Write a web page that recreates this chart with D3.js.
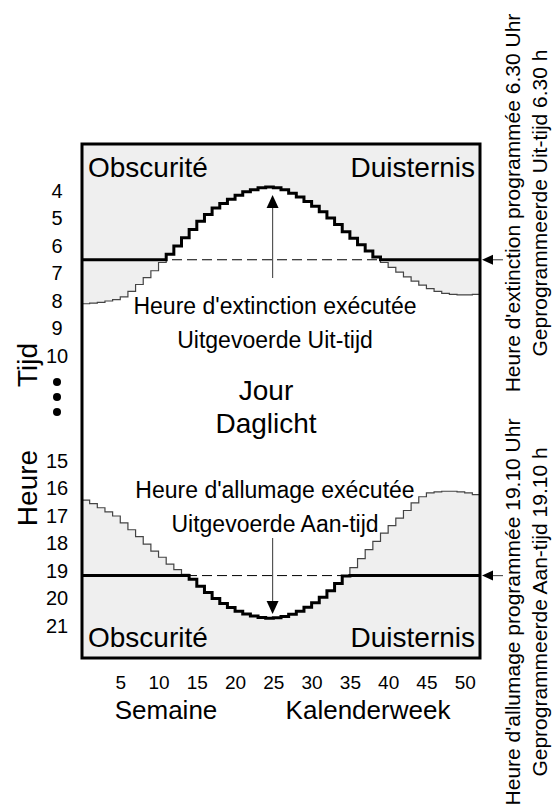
<!DOCTYPE html>
<html>
<head>
<meta charset="utf-8">
<script src="https://cdn.jsdelivr.net/npm/d3@7"></script>
<style>
  html, body { margin: 0; padding: 0; background: #fff; }
  svg text { font-family: "Liberation Sans", Arial, sans-serif; fill: #000; }
</style>
</head>
<body>
<svg id="chart" width="558" height="805"></svg>
<script>
// Sunrise (hour) per calendar week, weeks 1..52.
const sunrise = [
    8.10, 8.08, 8.05, 8.00, 7.95, 7.85, 7.65, 7.40, 7.15, 6.90,
    6.60, 6.30, 6.00, 5.70, 5.40, 5.10, 4.85, 4.62, 4.45, 4.30,
    4.15, 4.03, 3.95, 3.88, 3.85, 3.88, 3.95, 4.08, 4.22, 4.38,
    4.55, 4.75, 4.98, 5.22, 5.48, 5.72, 5.95, 6.18, 6.40, 6.60,
    6.78, 6.95, 7.12, 7.28, 7.42, 7.55, 7.65, 7.72, 7.76, 7.78,
    7.78, 7.76
];

// Sunset (hour) per calendar week, weeks 1..52.
const sunset = [
    16.42, 16.55, 16.70, 16.85, 17.00, 17.25, 17.50, 17.75, 18.02, 18.28,
    18.50, 18.75, 18.95, 19.12, 19.30, 19.55, 19.78, 20.00, 20.18, 20.33,
    20.46, 20.56, 20.64, 20.69, 20.72, 20.70, 20.65, 20.57, 20.46, 20.32,
    20.15, 19.95, 19.72, 19.45, 19.18, 18.88, 18.55, 18.22, 17.92, 17.62,
    17.35, 17.08, 16.80, 16.52, 16.30, 16.16, 16.12, 16.10, 16.10, 16.12,
    16.16, 16.22
];

const weekTicks = [5, 10, 15, 20, 25, 30, 35, 40, 45, 50];
const morningTicks = [4, 5, 6, 7, 8, 9, 10];
const eveningTicks = [15, 16, 17, 18, 19, 20, 21];

// Programmed switching times: off 6.30, on 19.10.
const offTime = 6.5;
const onTime = 19 + 10 / 60;

const svg = d3.select('#chart');

const frame = { left: 82, top: 144, right: 480, bottom: 658 };

const x = d3.scaleLinear().domain([0, sunrise.length]).range([frame.left, frame.right]);
const yTop = d3.scaleLinear().domain([4, 10]).range([191, 356]);
const yBot = d3.scaleLinear().domain([15, 21]).range([461, 626]);

// One point per week start, plus a closing point at the right edge, for step curves.
const steps = sunrise.map((rise, i) => ({ w: i, rise, set: sunset[i] }));
steps.push({ ...steps[steps.length - 1], w: sunrise.length });

// Night background, day area cut out of it.
svg.append('rect')
    .attr('x', frame.left).attr('y', frame.top)
    .attr('width', frame.right - frame.left).attr('height', frame.bottom - frame.top)
    .attr('fill', '#efefef');

const dayArea = d3.area().curve(d3.curveStepAfter)
    .x(d => x(d.w))
    .y0(d => yTop(d.rise))
    .y1(d => yBot(d.set));

svg.append('path').attr('d', dayArea(steps)).attr('fill', '#fff');

// Dashed programmed-time lines.
[yTop(offTime), yBot(onTime)].forEach(y => {
    svg.append('line')
        .attr('x1', frame.left).attr('x2', frame.right)
        .attr('y1', y).attr('y2', y)
        .attr('stroke', '#000').attr('stroke-width', 1)
        .attr('stroke-dasharray', '10,5');
});

// Thin sunrise / sunset curves.
const thinRise = d3.line().curve(d3.curveStepAfter).x(d => x(d.w)).y(d => yTop(d.rise));
const thinSet = d3.line().curve(d3.curveStepAfter).x(d => x(d.w)).y(d => yBot(d.set));

svg.append('path').attr('d', thinRise(steps)).attr('fill', 'none').attr('stroke', '#444').attr('stroke-width', 1.2);
svg.append('path').attr('d', thinSet(steps)).attr('fill', 'none').attr('stroke', '#444').attr('stroke-width', 1.2);

// Executed switching times (bold).
const boldOff = d3.line().curve(d3.curveStepAfter).x(d => x(d.w)).y(d => yTop(Math.min(d.rise, offTime)));
const boldOn = d3.line().curve(d3.curveStepAfter).x(d => x(d.w)).y(d => yBot(Math.max(d.set, onTime)));

svg.append('path').attr('d', boldOff(steps)).attr('fill', 'none').attr('stroke', '#000').attr('stroke-width', 3);
svg.append('path').attr('d', boldOn(steps)).attr('fill', 'none').attr('stroke', '#000').attr('stroke-width', 3);

// Vertical arrows pointing at the executed times.
const arrowX = x(24.9);

const vArrow = (from, tip, dir) => {
    svg.append('line')
        .attr('x1', arrowX).attr('x2', arrowX)
        .attr('y1', from).attr('y2', tip - dir * 10)
        .attr('stroke', '#555').attr('stroke-width', 1.2);
    svg.append('path')
        .attr('d', `M${arrowX},${tip}L${arrowX - 6},${tip - dir * 13}L${arrowX + 6},${tip - dir * 13}Z`)
        .attr('fill', '#000');
};

vArrow(278, 195, -1);
vArrow(538, 614, 1);

// Small arrows at the right edge for the programmed times.
[yTop(offTime), yBot(onTime)].forEach(y => {
    svg.append('line')
        .attr('x1', frame.right + 10).attr('x2', frame.right + 23)
        .attr('y1', y).attr('y2', y)
        .attr('stroke', '#555').attr('stroke-width', 1.2);
    svg.append('path')
        .attr('d', `M${frame.right + 2},${y}L${frame.right + 13},${y - 5}L${frame.right + 13},${y + 5}Z`)
        .attr('fill', '#000');
});

// Frame on top.
svg.append('rect')
    .attr('x', frame.left).attr('y', frame.top)
    .attr('width', frame.right - frame.left).attr('height', frame.bottom - frame.top)
    .attr('fill', 'none').attr('stroke', '#000').attr('stroke-width', 3);

// Region labels.
const label = (text, tx, ty, size, anchor = 'start') =>
    svg.append('text').attr('x', tx).attr('y', ty)
        .attr('font-size', size).attr('text-anchor', anchor).text(text);

label('Obscurité', 88, 177, 28);
label('Duisternis', 475, 177, 28, 'end');
label('Obscurité', 88, 647, 28);
label('Duisternis', 475, 647, 28, 'end');

label('Jour', 266, 400, 28, 'middle');
label('Daglicht', 266, 433, 28, 'middle');

label("Heure d'extinction exécutée", 275, 314, 23, 'middle');
label('Uitgevoerde Uit-tijd', 275, 348, 23, 'middle');
label("Heure d'allumage exécutée", 275, 498, 23, 'middle');
label('Uitgevoerde Aan-tijd', 275, 532, 23, 'middle');

// Axes.
const xAxis = svg.append('g')
    .attr('transform', `translate(0,${frame.bottom + 31})`)
    .call(d3.axisBottom(x).tickValues(weekTicks).tickFormat(d3.format('d')).tickSize(0).tickPadding(0));
xAxis.select('.domain').remove();
xAxis.selectAll('text').attr('font-size', 19).attr('dy', 0).attr('font-family', null);

const yAxisTop = svg.append('g')
    .attr('transform', 'translate(57,0)')
    .call(d3.axisLeft(yTop).tickValues(morningTicks).tickFormat(d3.format('d')).tickSize(0).tickPadding(0));
const yAxisBot = svg.append('g')
    .attr('transform', 'translate(57,0)')
    .call(d3.axisLeft(yBot).tickValues(eveningTicks).tickFormat(d3.format('d')).tickSize(0).tickPadding(0));

[yAxisTop, yAxisBot].forEach(g => {
    g.select('.domain').remove();
    g.selectAll('text').attr('font-size', 20).attr('text-anchor', 'middle').attr('x', 0).attr('font-family', null);
});

// Break dots between 10 and 15.
[382, 397, 412].forEach(cy => {
    svg.append('circle').attr('cx', 57).attr('cy', cy).attr('r', 4).attr('fill', '#000');
});

label('Semaine', 166, 719, 26, 'middle');
label('Kalenderweek', 368, 719, 26, 'middle');

// Rotated axis titles.
const rotated = (text, tx, ty, size) =>
    svg.append('text')
        .attr('transform', `translate(${tx},${ty}) rotate(-90)`)
        .attr('font-size', size).attr('text-anchor', 'middle').text(text);

rotated('Tijd', 37, 365, 28);
rotated('Heure', 37, 488, 28);

rotated("Heure d'extinction programmée 6.30 Uhr", 520, 203, 21);
rotated('Geprogrammeerde Uit-tijd 6.30 h', 547, 203, 21);
rotated("Heure d'allumage programmée 19.10 Uhr", 520, 612, 21);
rotated('Geprogrammeerde Aan-tijd 19.10 h', 547, 612, 21);
</script>
</body>
</html>
